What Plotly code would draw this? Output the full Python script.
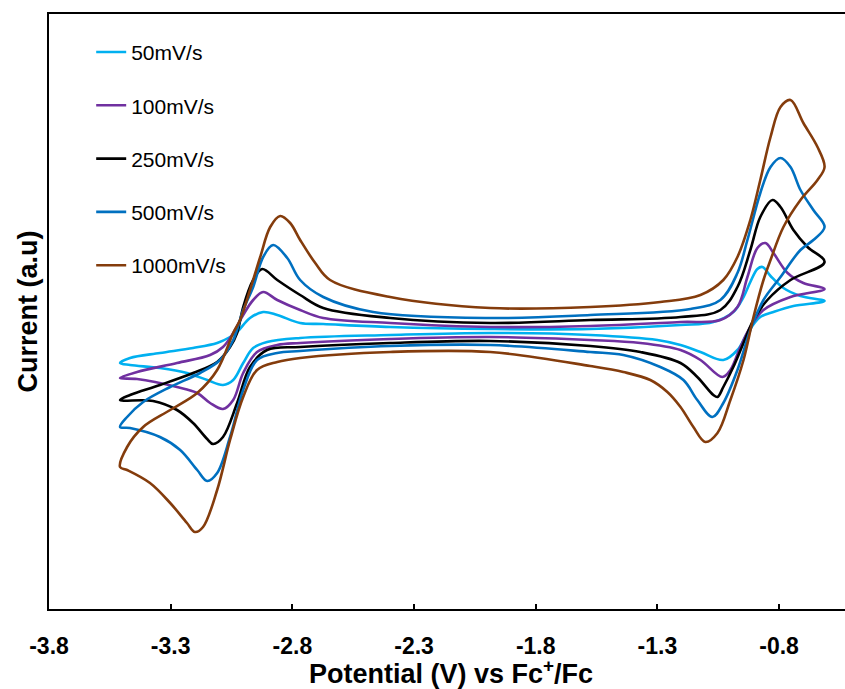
import plotly.graph_objects as go

# Potential (V vs Fc+/Fc) and current (a.u.) for each scan rate, closed CV loops
v_50 = [-3.508, -3.467, -3.344, -3.233, -3.150, -3.085, -3.043, -3.002, -2.961, -2.904, -2.768, -2.398,
        -1.987, -1.576, -1.300, -1.205, -1.123, -1.029, -0.971, -0.930, -0.877, -0.823, -0.741, -0.613,
        -0.712, -0.782, -0.835, -0.868, -0.889, -0.918, -0.946, -0.988, -1.070, -1.205, -1.576, -1.987,
        -2.398, -2.673, -2.768, -2.862, -2.920, -2.974, -3.027, -3.056, -3.109, -3.208, -3.344, -3.467, -3.508]
i_50 = [246, 244, 241, 236, 229, 224, 229, 246, 261, 267, 271, 274,
        276, 274, 269, 264, 257, 249, 259, 276, 292, 297, 303, 308,
        313, 321, 333, 342, 340, 327, 312, 297, 287, 284, 280, 280,
        282, 285, 286, 294, 297, 291, 277, 272, 266, 261, 256, 251, 246]

v_100 = [-3.508, -3.438, -3.274, -3.191, -3.138, -3.085, -3.043, -3.002, -2.945, -2.862, -2.768, -2.398,
         -1.987, -1.576, -1.370, -1.205, -1.123, -1.033, -1.000, -0.959, -0.918, -0.864, -0.753, -0.613,
         -0.700, -0.765, -0.823, -0.856, -0.889, -0.930, -0.971, -1.041, -1.205, -1.576, -1.987, -2.398,
         -2.673, -2.768, -2.862, -2.920, -2.961, -3.002, -3.043, -3.085, -3.138, -3.274, -3.438, -3.508]
i_100 = [231, 230, 222, 216, 206, 200, 209, 236, 257, 264, 266, 270,
         272, 269, 266, 259, 249, 232, 239, 262, 282, 299, 312, 320,
         326, 336, 356, 366, 361, 332, 302, 289, 287, 283, 282, 286,
         291, 299, 309, 317, 309, 294, 276, 262, 254, 246, 237, 231]

v_250 = [-3.508, -3.372, -3.274, -3.208, -3.150, -3.126, -3.085, -3.027, -2.974, -2.904, -2.768, -2.398,
         -1.987, -1.576, -1.370, -1.205, -1.136, -1.070, -1.053, -1.029, -0.988, -0.946, -0.905, -0.848,
         -0.753, -0.613, -0.683, -0.741, -0.794, -0.827, -0.877, -0.918, -0.971, -1.041, -1.205, -1.576,
         -1.987, -2.398, -2.673, -2.768, -2.862, -2.924, -2.961, -3.002, -3.027, -3.056, -3.109, -3.208,
         -3.344, -3.467, -3.508]
i_250 = [209, 208, 199, 186, 170, 165, 172, 206, 242, 259, 262, 266,
         268, 263, 257, 246, 232, 214, 212, 222, 242, 266, 289, 309,
         329, 347, 362, 379, 402, 409, 392, 359, 322, 299, 292, 289,
         286, 291, 301, 314, 329, 340, 329, 302, 276, 262, 247, 236,
         224, 214, 209]

v_500 = [-3.508, -3.467, -3.344, -3.261, -3.191, -3.150, -3.109, -3.056, -3.002, -2.945, -2.862, -2.768,
         -2.398, -1.987, -1.576, -1.440, -1.288, -1.193, -1.136, -1.074, -1.029, -0.971, -0.918, -0.864,
         -0.794, -0.712, -0.659, -0.613, -0.659, -0.712, -0.753, -0.794, -0.835, -0.877, -0.930, -0.971,
         -1.041, -1.164, -1.576, -1.987, -2.468, -2.673, -2.768, -2.821, -2.879, -2.920, -2.961, -3.002,
         -3.043, -3.097, -3.179, -3.302, -3.413, -3.479, -3.508]
i_500 = [182, 181, 172, 159, 139, 128, 136, 172, 219, 249, 256, 258,
         263, 264, 257, 254, 242, 229, 209, 192, 206, 239, 279, 309,
         332, 359, 369, 382, 399, 419, 442, 451, 442, 416, 369, 336,
         309, 300, 294, 291, 297, 312, 329, 351, 364, 352, 322, 299,
         269, 249, 236, 222, 207, 192, 182]

v_1000 = [-3.508, -3.479, -3.385, -3.302, -3.233, -3.200, -3.167, -3.109, -3.056, -3.002, -2.945, -2.862,
          -2.768, -2.398, -1.987, -1.576, -1.440, -1.329, -1.259, -1.205, -1.152, -1.103, -1.053, -1.000,
          -0.946, -0.905, -0.864, -0.835, -0.782, -0.712, -0.642, -0.613, -0.642, -0.700, -0.753, -0.794,
          -0.835, -0.877, -0.918, -0.971, -1.029, -1.123, -1.288, -1.576, -1.987, -2.398, -2.645, -2.706,
          -2.768, -2.809, -2.850, -2.891, -2.932, -2.974, -3.015, -3.043, -3.109, -3.191, -3.302, -3.413,
          -3.479, -3.508]
i_1000 = [142, 139, 126, 106, 86, 77, 82, 119, 169, 212, 239, 247,
          251, 257, 257, 243, 237, 229, 217, 202, 182, 167, 176, 209,
          249, 292, 329, 349, 382, 409, 429, 442, 462, 486, 509, 502,
          472, 429, 389, 352, 329, 314, 307, 302, 301, 312, 329, 346,
          369, 386, 393, 382, 352, 319, 289, 276, 239, 216, 199, 182,
          162, 142]

series_names = ["50mV/s", "100mV/s", "250mV/s", "500mV/s", "1000mV/s"]
series_v = [v_50, v_100, v_250, v_500, v_1000]
series_i = [i_50, i_100, i_250, i_500, i_1000]
series_colors = ["#00B0F0", "#7030A0", "#000000", "#0070C0", "#843C0C"]

x_ticks = [-3.8, -3.3, -2.8, -2.3, -1.8, -1.3, -0.8]

FONT = "Liberation Sans, Arial, sans-serif"

fig = go.Figure()
for k, (name, vv, ii, col) in enumerate(zip(series_names, series_v, series_i, series_colors)):
    fig.add_trace(go.Scatter(
        x=vv, y=ii, mode="lines", name=name, legendgroup=f"g{k}",
        line=dict(color=col, width=2.6, shape="spline", smoothing=1.0),
    ))

fig.update_layout(
    width=845, height=689,
    margin=dict(l=49, r=0, t=14, b=80, autoexpand=False),
    paper_bgcolor="white", plot_bgcolor="white",
    font=dict(family=FONT, color="black"),
    showlegend=True,
    legend=dict(
        x=0.053, y=0.97, xanchor="left", yanchor="top",
        font=dict(family=FONT, size=21, color="black"),
        traceorder="grouped", tracegroupgap=23,
        bgcolor="rgba(0,0,0,0)",
    ),
    xaxis=dict(
        range=[-3.8, -0.529], automargin=False,
        tickmode="array", tickvals=x_ticks, ticktext=[f"{t:.1f}" for t in x_ticks],
        ticks="inside", ticklen=5, tickwidth=2, tickcolor="black",
        showline=True, linecolor="black", linewidth=2, mirror=True,
        showgrid=False, zeroline=False,
        tickfont=dict(family=FONT, size=23, color="black", weight="bold"),
        ticklabelstandoff=15,
    ),
    yaxis=dict(
        range=[0, 595], automargin=False,
        showticklabels=False, ticks="",
        showline=True, linecolor="black", linewidth=2, mirror=False,
        showgrid=False, zeroline=False,
    ),
    annotations=[
        dict(text="Potential (V) vs Fc<sup>+</sup>/Fc", xref="paper", yref="paper",
             x=0.505, y=-0.106, xanchor="center", yanchor="middle", showarrow=False,
             font=dict(family=FONT, size=27, color="black", weight="bold")),
        dict(text="Current (a.u)", xref="paper", yref="paper",
             x=-0.0264, y=0.5, xanchor="center", yanchor="middle", showarrow=False,
             textangle=-90,
             font=dict(family=FONT, size=27, color="black", weight="bold")),
    ],
)

fig.write_html("out.html", config={"displayModeBar": False},
               post_script="document.body.style.margin='0';document.body.style.overflow='hidden';")
